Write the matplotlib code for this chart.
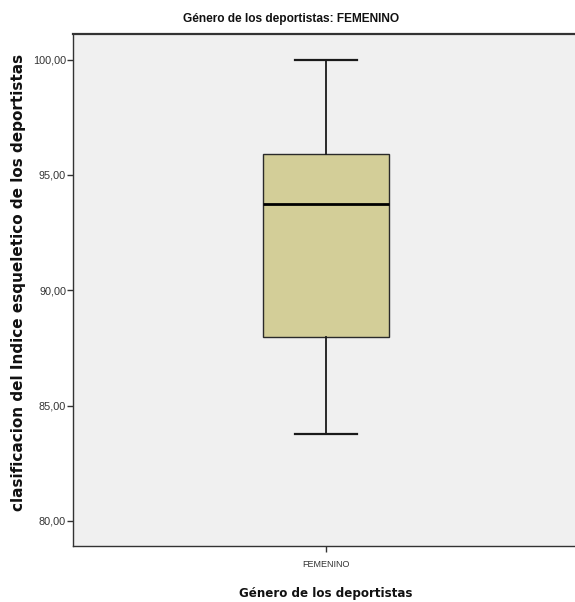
import matplotlib
matplotlib.use("Agg")
import matplotlib.pyplot as plt
from matplotlib.ticker import FuncFormatter

# summary statistics of the box (SPSS style: whiskers at min / max)
group = "FEMENINO"
whisker_low = 83.77
q1 = 87.96
median = 93.73
q3 = 95.90
whisker_high = 100.00
y_ticks = [80, 85, 90, 95, 100]

sans = ["Liberation Sans", "DejaVu Sans"]

fig = plt.figure(figsize=(5.75, 6.02), dpi=100)
ax = fig.add_axes([0.127, 0.0935, 0.873, 0.8495])
ax.set_facecolor("#F0F0F0")

stats = [{
    "label": group,
    "whislo": whisker_low,
    "q1": q1,
    "med": median,
    "q3": q3,
    "whishi": whisker_high,
    "fliers": [],
}]
ax.bxp(stats, positions=[1.0], widths=0.251, patch_artist=True,
       showfliers=False,
       boxprops=dict(facecolor="#D3CE98", edgecolor="#2a2a2a", linewidth=1.0),
       medianprops=dict(color="black", linewidth=2.0),
       whiskerprops=dict(color="#1a1a1a", linewidth=1.3),
       capprops=dict(color="#1a1a1a", linewidth=1.6),
       capwidths=0.125)

ax.set_xlim(0.496, 1.496)
ax.set_ylim(78.92, 101.10)
ax.set_yticks(y_ticks)
ax.yaxis.set_major_formatter(FuncFormatter(lambda v, p: f"{v:.2f}".replace(".", ",")))

for s in ["top", "bottom", "left"]:
    ax.spines[s].set_color("#333333")
    ax.spines[s].set_linewidth(1.0)
ax.spines["top"].set_linewidth(1.6)
ax.spines["right"].set_visible(False)

ax.tick_params(axis="both", direction="out", length=4, width=1, color="#333333",
               labelcolor="#333333")
ax.tick_params(axis="y", labelsize=7.8, pad=1)
ax.tick_params(axis="x", labelsize=6.5, pad=6)
for lbl in ax.get_yticklabels() + ax.get_xticklabels():
    lbl.set_family(sans)

fig.text(291 / 575, 1 - 19 / 602, "Género de los deportistas: FEMENINO",
         family=sans, fontsize=8.6, fontweight="bold", ha="center", va="center",
         color="#111111")

ax.set_ylabel("clasificacion del Indice esqueletico de los deportistas",
              fontsize=11, fontweight="bold", color="#111111")
ax.yaxis.set_label_coords(-0.094, 0.514)

fig.text(326 / 575, 1 - 593 / 602, "Género de los deportistas",
         fontsize=8.6, fontweight="bold", ha="center", va="center",
         color="#111111")

fig.savefig("out.png", dpi=100, facecolor="white")
